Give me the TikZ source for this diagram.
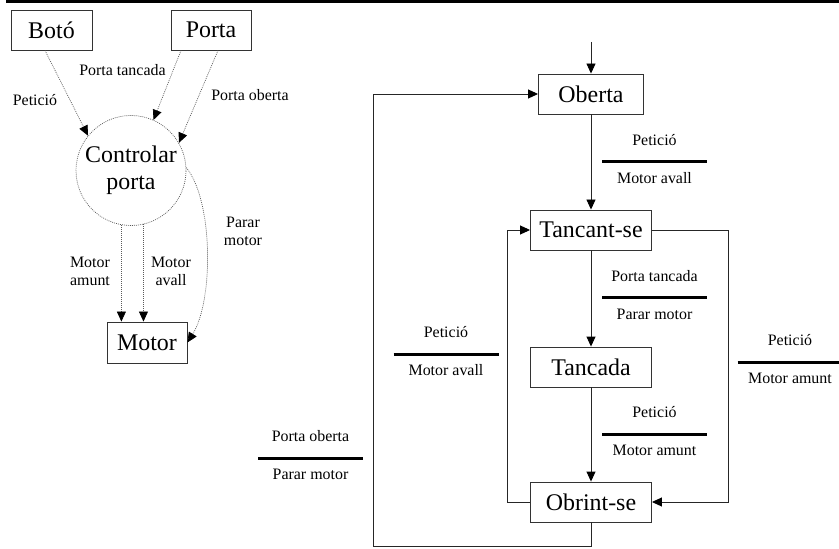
\documentclass[tikz,border=0pt]{standalone}
\usepackage{fontspec}
\setmainfont{Liberation Serif}
\usetikzlibrary{arrows.meta,calc}

% condition / action label: text above a bar, action below it
\newcommand\condlabel[5]{%
  \node[lbl] (#1t) at (#2,#3-21.5) {#4};
  \draw[bar] (#2-52.5,#3) -- (#2+52.5,#3);
  \node[lbl] (#1b) at (#2,#3+16) {#5};}

\begin{document}
\begin{tikzpicture}[x=1bp,y=-1bp,
  bigfont/.style={font=\fontsize{24}{27}\selectfont},
  smallfont/.style={font=\fontsize{16}{18}\selectfont},
  box/.style={draw=black!80,line width=0.9bp,minimum height=40bp,inner sep=0pt,bigfont},
  dotline/.style={draw=black!65,line width=0.7bp,dash pattern=on 0.9bp off 1.1bp},
  flow/.style={dotline,-{Triangle[length=10bp,width=9bp,black]}},
  trans/.style={draw=black!85,line width=0.9bp},
  arr/.style={trans,-{Triangle[length=10bp,width=9bp,black]}},
  lbl/.style={smallfont,inner sep=0pt,align=center},
  bar/.style={line width=3bp,black}]
\useasboundingbox (0,0) rectangle (839,549);
\fill[black] (6,0) rectangle (839,3.5);

% ---- data-flow diagram ----
\node[box,minimum width=81bp] (boto) at (51.5,30) {Botó};
\node[box,minimum width=80bp] (porta) at (211,30) {Porta};
\node[dotline,circle,minimum size=110bp,inner sep=0pt,bigfont,align=center] (ctrl) at (131,170.5) {Controlar\\porta};
\node[box,minimum width=80bp,minimum height=41bp] (motor) at (147,342.5) {Motor};

\draw[flow] ([xshift=-6.5bp]boto.south) -- (ctrl.141);
\draw[flow] ([xshift=-30bp]porta.south) -- (ctrl.66);
\draw[flow] ([xshift=7bp]porta.south) -- (ctrl.30);
\draw[flow] (ctrl.260) -- (ctrl.260 |- motor.north);
\draw[flow] (ctrl.283) -- (ctrl.283 |- motor.north);
\draw[flow] (ctrl.3) .. controls (213,200) and (214,300) .. (motor.east);

\node[lbl] (lpet) at (35,100) {Petició};
\node[lbl] (lptan) at (122.5,70) {Porta tancada};
\node[lbl] (lpob) at (250,95) {Porta oberta};
\node[lbl] (lmam) at (90,271) {Motor\\amunt};
\node[lbl] (lmav) at (171,271) {Motor\\avall};
\node[lbl] (lpm) at (243,231) {Parar\\motor};

% ---- state diagram ----
\node[box,minimum width=105bp] (oberta) at (591,94) {Oberta};
\node[box,minimum width=121bp] (tancant) at (591,230) {Tancant-se};
\node[box,minimum width=121bp] (tancada) at (591,367) {Tancada};
\node[box,minimum width=121bp] (obrint) at (591,502) {Obrint-se};

\coordinate (entry) at (591,42);
\coordinate (rx) at (728,0);
\coordinate (lx) at (507,0);
\coordinate (outer) at (373,546);

\draw[arr] (entry) -- (oberta.north);
\draw[arr] (oberta.south) -- (tancant.north);
\draw[arr] (tancant.south) -- (tancada.north);
\draw[arr] (tancada.south) -- (obrint.north);
\draw[arr] (tancant.east) -- (tancant.east -| rx) |- (obrint.east);
\draw[arr] (obrint.west) -- (obrint.west -| lx) |- (tancant.west);
\draw[arr] (obrint.south) |- (outer) |- (oberta.west);

\condlabel{c1}{654.5}{162}{Petició}{Motor avall}
\condlabel{c2}{654.5}{298}{Porta tancada}{Parar motor}
\condlabel{c3}{654.5}{434}{Petició}{Motor amunt}
\condlabel{c4}{790}{362}{Petició}{Motor amunt}
\condlabel{c5}{446}{354}{Petició}{Motor avall}
\condlabel{c6}{310.5}{458}{Porta oberta}{Parar motor}
\end{tikzpicture}
\end{document}
